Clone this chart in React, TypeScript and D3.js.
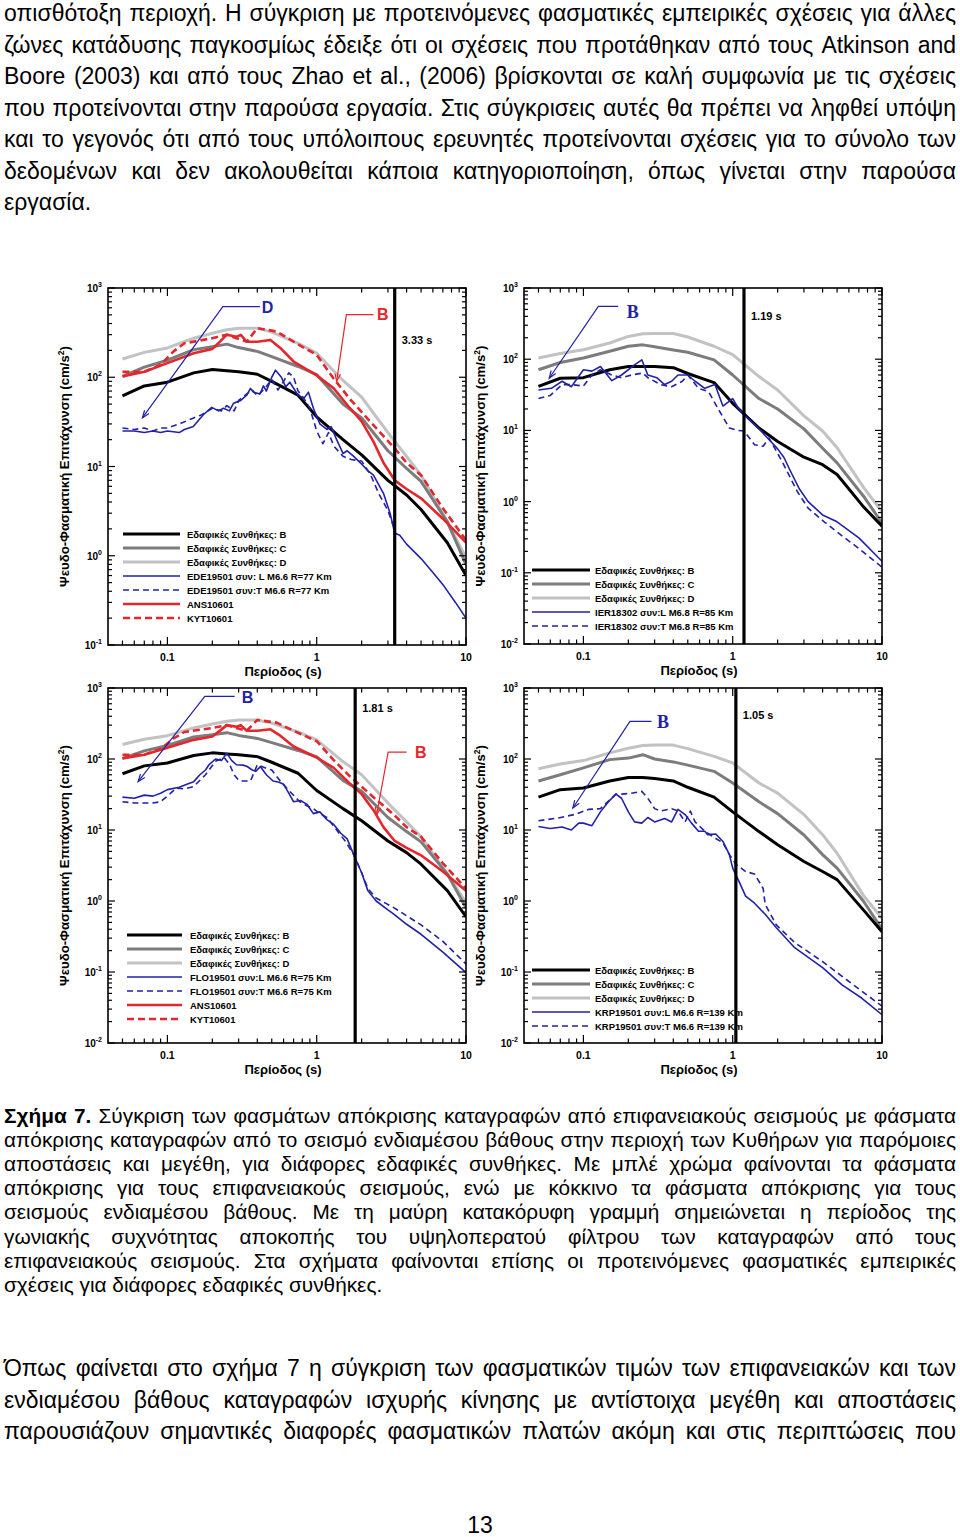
import React from 'react';
import * as d3 from 'd3';

const W = 960;
const H = 1537;

// ---------------- DATA ----------------
const empPeriods = [0.05, 0.07, 0.1, 0.15, 0.2, 0.25, 0.3, 0.4, 0.5, 0.75, 1, 1.5, 2, 3, 4, 5, 7.5, 10];
// empirical relations, M6.6 R~75-77 Km (panels a, c)
const empB_77 = [62, 80, 88, 112, 122, 118, 115, 108, 90, 63, 36, 20, 13.5, 7, 4.8, 3.3, 1.4, 0.6];
const empC_77 = [102, 130, 155, 204, 220, 235, 215, 195, 170, 132, 107, 50, 35, 15, 9.5, 6.8, 2.4, 0.8];
const empD_77 = [160, 190, 213, 274, 311, 340, 355, 355, 320, 240, 186, 92, 60, 24, 13, 8, 2.4, 0.95];
// empirical relations, M6.8 R=85 Km (panel b)
const empB_85 = [41.5, 54, 55, 71, 79, 79, 79, 76, 63, 47, 24, 10.8, 7, 4.2, 3.3, 2.4, 0.85, 0.45];
const empC_85 = [71, 90, 104, 129, 152, 159, 150, 135, 125, 98, 60, 28, 20, 10.5, 5.6, 3.5, 1.2, 0.5];
const empD_85 = [104, 120, 136, 169, 209, 228, 230, 230, 205, 152, 116, 57, 37, 16, 9.8, 5.7, 1.6, 0.72];
// empirical relations, M6.6 R=139 Km (panel d)
const empB_139 = [29, 37, 39, 49, 55, 55, 53, 49, 40, 29, 18, 9.5, 6.2, 3.6, 2.6, 2.0, 0.75, 0.37];
const empC_139 = [49, 60, 75, 98, 103, 115, 100, 91, 82, 67, 46, 25, 17, 8.5, 4.5, 2.9, 1.0, 0.4];
const empD_139 = [73, 85, 95, 122, 142, 155, 158, 157, 140, 109, 88, 46, 33, 16.5, 8.6, 4.7, 1.2, 0.57];

// intermediate-depth records [period, PSA]
const ANS10601: [number, number][] = [[0.05, 102], [0.07, 115], [0.1, 144], [0.15, 186], [0.2, 208], [0.225, 251], [0.25, 300], [0.29, 285], [0.31, 298], [0.34, 250], [0.4, 250], [0.49, 262], [0.57, 213], [0.7, 150], [1, 105], [1.3, 75], [1.67, 45], [2, 32], [2.4, 19], [2.8, 11], [3.33, 7], [4, 5.6], [5, 4.4], [7, 2.6], [10, 1.4]];
const KYT10601: [number, number][] = [[0.05, 115], [0.07, 115], [0.09, 138], [0.11, 195], [0.13, 240], [0.2, 274], [0.25, 300], [0.29, 274], [0.34, 250], [0.4, 355], [0.54, 325], [0.7, 250], [1, 178], [1.29, 98], [1.67, 57], [2.4, 29], [3.33, 16], [4, 11], [5, 8], [7, 3.4], [10, 1.5]];

// surface records
const EDE19501_L: [number, number][] = [[0.05, 25], [0.06, 25], [0.07, 24], [0.08, 25], [0.09, 24], [0.1, 25], [0.12, 24], [0.13, 26], [0.149, 28], [0.174, 38], [0.198, 46], [0.22, 42], [0.237, 45], [0.26, 42], [0.277, 51], [0.31, 55], [0.34, 63], [0.36, 75], [0.377, 68], [0.417, 65], [0.44, 80], [0.46, 70], [0.5, 100], [0.53, 120], [0.58, 100], [0.62, 78], [0.66, 88], [0.75, 63], [0.82, 58], [0.88, 68], [0.95, 45], [1.05, 30], [1.17, 26], [1.25, 28], [1.36, 20], [1.5, 14], [1.6, 15], [1.77, 13], [1.96, 11], [2.2, 9], [2.4, 8], [2.8, 5], [3.1, 3], [3.33, 1.8], [3.6, 1.7], [4, 1.35], [5, 0.93], [6, 0.65], [7.1, 0.46], [8.5, 0.3], [10, 0.2]];
const EDE19501_T: [number, number][] = [[0.05, 27], [0.06, 26], [0.07, 27], [0.08, 25], [0.09, 27], [0.1, 27], [0.12, 30], [0.15, 35], [0.17, 38], [0.2, 45], [0.23, 42], [0.25, 48], [0.28, 42], [0.3, 55], [0.34, 65], [0.37, 72], [0.4, 62], [0.45, 75], [0.5, 95], [0.55, 72], [0.6, 90], [0.65, 112], [0.7, 100], [0.75, 70], [0.8, 62], [0.9, 45], [1.0, 25], [1.1, 18], [1.2, 24], [1.3, 17], [1.5, 13], [1.7, 12], [2, 11.5], [2.3, 8], [2.6, 5], [3.0, 3.2], [3.25, 2.2]];
const IER18302_L: [number, number][] = [[0.05, 37], [0.061, 39], [0.072, 49], [0.083, 41], [0.1, 71], [0.114, 68], [0.13, 79], [0.155, 50], [0.18, 60], [0.22, 83], [0.246, 98], [0.27, 60], [0.31, 55], [0.35, 44], [0.39, 49], [0.43, 60], [0.5, 60], [0.56, 49], [0.65, 39], [0.76, 44], [0.86, 22], [1.0, 28], [1.09, 20.6], [1.19, 16.7], [1.5, 10.5], [1.8, 7], [2.0, 5.5], [2.2, 4.2], [2.5, 2.4], [2.8, 1.5], [3.2, 1.0], [4, 0.65], [5, 0.52], [7, 0.31], [10, 0.145]];
const IER18302_T: [number, number][] = [[0.05, 28], [0.06, 31], [0.072, 44], [0.083, 44], [0.1, 42], [0.114, 60], [0.13, 71], [0.155, 60], [0.18, 55], [0.21, 60], [0.25, 64], [0.27, 55], [0.33, 44], [0.39, 41], [0.46, 49], [0.5, 60], [0.59, 39], [0.69, 35], [0.8, 20], [0.95, 10.8], [1.09, 10], [1.19, 9.8], [1.4, 6.3], [1.6, 6], [1.75, 7.8], [2.15, 3.6], [2.7, 1.4], [3.2, 0.81], [4.1, 0.52], [5.3, 0.34], [7, 0.22], [10, 0.12]];
const FLO19501_L: [number, number][] = [[0.05, 29], [0.06, 28], [0.07, 31], [0.08, 30], [0.09, 33], [0.1, 37], [0.12, 40], [0.135, 44], [0.15, 48], [0.165, 60], [0.18, 70], [0.19, 83], [0.21, 100], [0.23, 95], [0.25, 120], [0.27, 95], [0.29, 83], [0.32, 82], [0.34, 79], [0.37, 70], [0.39, 67], [0.42, 78], [0.46, 60], [0.51, 49], [0.56, 47], [0.6, 44], [0.65, 33], [0.7, 25], [0.78, 26], [0.86, 23], [0.95, 17], [1.05, 18], [1.17, 14], [1.3, 12], [1.45, 9], [1.6, 7.5], [1.81, 4], [2.0, 2.5], [2.2, 1.4], [2.5, 1.0], [3, 0.75], [3.3, 0.65], [4, 0.47], [5, 0.34], [7, 0.19], [10, 0.098]];
const FLO19501_T: [number, number][] = [[0.05, 25], [0.06, 24], [0.07, 24], [0.08, 24], [0.09, 25], [0.1, 30], [0.115, 39], [0.13, 38], [0.15, 41], [0.18, 60], [0.21, 93], [0.24, 105], [0.26, 85], [0.28, 60], [0.3, 50], [0.32, 49], [0.36, 49], [0.4, 83], [0.46, 74], [0.5, 70], [0.57, 49], [0.66, 35], [0.77, 25], [0.86, 22], [0.95, 20], [1.05, 17], [1.17, 15], [1.36, 10], [1.55, 7], [1.77, 4.5], [2.0, 2.5], [2.2, 1.5], [2.5, 1.1], [3.3, 0.8], [5, 0.46], [7, 0.27], [10, 0.13]];
const KRP19501_L: [number, number][] = [[0.05, 11.2], [0.06, 10.5], [0.072, 11], [0.083, 10], [0.093, 12.5], [0.1, 12.5], [0.114, 11.5], [0.13, 18], [0.147, 25], [0.165, 32], [0.18, 28], [0.2, 18], [0.22, 13], [0.246, 12.5], [0.27, 15], [0.3, 13], [0.35, 14.5], [0.39, 13], [0.43, 19.5], [0.48, 16.5], [0.53, 12.5], [0.59, 9.6], [0.65, 9.6], [0.68, 8.6], [0.77, 8.8], [0.86, 6.9], [0.95, 4.5], [1.0, 2.9], [1.1, 1.9], [1.22, 1.17], [1.4, 0.93], [1.65, 0.65], [1.96, 0.42], [2.6, 0.22], [4, 0.115], [5.4, 0.066], [7.3, 0.043], [10, 0.025]];
const KRP19501_T: [number, number][] = [[0.05, 13.5], [0.068, 14.8], [0.088, 16.6], [0.108, 19.5], [0.13, 20], [0.165, 32], [0.18, 32], [0.21, 33], [0.246, 35], [0.27, 28], [0.3, 20], [0.33, 18.5], [0.39, 20], [0.43, 18.5], [0.48, 13], [0.52, 18.5], [0.56, 13], [0.65, 9.6], [0.77, 7.6], [0.86, 6.6], [0.95, 4.5], [1.05, 3.3], [1.22, 2.6], [1.4, 2.4], [1.6, 1.5], [1.65, 0.9], [1.96, 0.46], [2.6, 0.26], [4, 0.14], [5.4, 0.087], [7.3, 0.054], [10, 0.033]];

const cutoffPeriods = [3.33, 1.19, 1.81, 1.05];
const xTickLabels = ['0.1', '1', '10'];

const legendSoil = ['Εδαφικές Συνθήκες: B', 'Εδαφικές Συνθήκες: C', 'Εδαφικές Συνθήκες: D'];
const legendA = ['EDE19501 συν: L M6.6 R=77 Km', 'EDE19501 συν:T  M6.6 R=77 Km', 'ANS10601', 'KYT10601'];
const legendB = ['IER18302 συν:L  M6.8 R=85 Km', 'IER18302 συν:T  M6.8 R=85 Km'];
const legendC = ['FLO19501 συν:L  M6.6 R=75 Km', 'FLO19501 συν:T  M6.6 R=75 Km', 'ANS10601', 'KYT10601'];
const legendD = ['KRP19501 συν:L  M6.6 R=139 Km', 'KRP19501 συν:T  M6.6 R=139 Km'];

const paraTop = [
  'οπισθότοξη περιοχή. Η σύγκριση με προτεινόμενες φασματικές εμπειρικές σχέσεις για άλλες',
  'ζώνες κατάδυσης παγκοσμίως έδειξε ότι οι σχέσεις που προτάθηκαν από τους Atkinson and',
  'Boore (2003) και από τους Zhao et al., (2006) βρίσκονται σε καλή συμφωνία με τις σχέσεις',
  'που προτείνονται στην παρούσα εργασία. Στις σύγκρισεις αυτές θα πρέπει να ληφθεί υπόψη',
  'και το γεγονός ότι από τους υπόλοιπους ερευνητές προτείνονται σχέσεις για το σύνολο των',
  'δεδομένων και δεν ακολουθείται κάποια κατηγοριοποίηση, όπως γίνεται στην παρούσα',
  'εργασία.',
];
const captionLines = [
  'Σχήμα 7. Σύγκριση των φασμάτων απόκρισης καταγραφών από επιφανειακούς σεισμούς με φάσματα',
  'απόκρισης καταγραφών από το σεισμό ενδιαμέσου βάθους στην περιοχή των Κυθήρων για παρόμοιες',
  'αποστάσεις και μεγέθη, για διάφορες εδαφικές συνθήκες. Με μπλέ χρώμα φαίνονται τα φάσματα',
  'απόκρισης για τους επιφανειακούς σεισμούς, ενώ με κόκκινο τα φάσματα απόκρισης για τους',
  'σεισμούς ενδιαμέσου βάθους. Με τη μαύρη κατακόρυφη γραμμή σημειώνεται η περίοδος της',
  'γωνιακής συχνότητας αποκοπής του υψηλοπερατού φίλτρου των καταγραφών από τους',
  'επιφανειακούς σεισμούς. Στα σχήματα φαίνονται επίσης οι προτεινόμενες φασματικές εμπειρικές',
  'σχέσεις για διάφορες εδαφικές συνθήκες.',
];
const paraBottom = [
  'Όπως φαίνεται στο σχήμα 7 η σύγκριση των φασματικών τιμών των επιφανειακών και των',
  'ενδιαμέσου βάθους καταγραφών ισχυρής κίνησης με αντίστοιχα μεγέθη και αποστάσεις',
  'παρουσιάζουν σημαντικές διαφορές φασματικών πλατών ακόμη και στις περιπτώσεις που',
];

// ---------------- STYLE ----------------
const FONT = "'Liberation Sans', Arial, Helvetica, sans-serif";
const SERIF = "'Liberation Serif', 'Times New Roman', serif";
const BLUE = '#2222a6';
const RED = '#e3272c';
const GB = '#000000';
const GC = '#7c7c7c';
const GD = '#c2c2c2';

type Style = { color: string; width: number; dash?: string };
const sB: Style = { color: GB, width: 3 };
const sC: Style = { color: GC, width: 3 };
const sD: Style = { color: GD, width: 3 };
const sBlueL: Style = { color: BLUE, width: 1.6 };
const sBlueT: Style = { color: BLUE, width: 1.6, dash: '6,4' };
const sRedL: Style = { color: RED, width: 2.6 };
const sRedT: Style = { color: RED, width: 2.6, dash: '7,4' };

const zip = (xs: number[], ys: number[]): [number, number][] => xs.map((x, i) => [x, ys[i]]);

// ---------------- TEXT MEASURE ----------------
let _ctx: CanvasRenderingContext2D | null = null;
function tw(s: string, size: number, bold: boolean) {
  if (!_ctx) _ctx = document.createElement('canvas').getContext('2d');
  _ctx!.font = `${bold ? 'bold ' : ''}${size}px 'Liberation Sans'`;
  return _ctx!.measureText(s).width;
}

function JLine({ text, x, y, width, size, justify, boldCount = 0 }: { text: string; x: number; y: number; width: number; size: number; justify: boolean; boldCount?: number }) {
  const words = text.split(' ');
  const ws = words.map((w, i) => tw(w, size, i < boldCount));
  const total = ws.reduce((a, b) => a + b, 0);
  const sp = tw(' ', size, false);
  let gap = justify && words.length > 1 ? (width - total) / (words.length - 1) : sp;
  let scale = 1;
  if (gap < 2) {
    // too long: shrink glyphs slightly to fit
    scale = (width - 2 * (words.length - 1)) / total;
    gap = 2;
  }
  let cx = x;
  return (
    <g>
      {words.map((w, i) => {
        const wi = ws[i] * scale;
        const el = (
          <text key={i} x={cx} y={y} fontSize={size} fontFamily={FONT} fontWeight={i < boldCount ? 'bold' : 'normal'} fill="#000" textLength={scale < 1 ? wi : undefined} lengthAdjust="spacingAndGlyphs">
            {w}
          </text>
        );
        cx += wi + gap;
        return el;
      })}
    </g>
  );
}

// ---------------- PANEL ----------------
type Series = { pts: [number, number][]; style: Style };
type Annot = { label: string; color: string; serif?: boolean; at: [number, number]; path: [number, number][] };
type PanelProps = {
  id: string;
  l: number; r: number; t: number; b: number;
  yMin: number;
  series: Series[];
  cutoff: number;
  cutoffLabelY: number;
  legend: { label: string; style: Style }[];
  leg: { x0: number; x1: number; tx: number; y0: number };
  annots: Annot[];
};

function Panel(p: PanelProps) {
  const x = d3.scaleLog().domain([0.04, 10]).range([p.l, p.r]);
  const y = d3.scaleLog().domain([p.yMin, 1000]).range([p.b, p.t]);
  const line = d3.line<[number, number]>().x((d) => x(d[0])).y((d) => y(d[1]));
  const eMin = Math.round(Math.log10(p.yMin));
  const yTicks: { v: number; major: boolean }[] = [];
  for (let e = eMin; e <= 3; e++) {
    yTicks.push({ v: Math.pow(10, e), major: true });
    if (e < 3) for (let k = 2; k <= 9; k++) yTicks.push({ v: k * Math.pow(10, e), major: false });
  }
  const xTicks: { v: number; major: boolean }[] = [];
  [0.01, 0.1, 1].forEach((dec) => {
    for (let k = 1; k <= 9; k++) {
      const v = k * dec;
      if (v >= 0.049 && v <= 10) xTicks.push({ v, major: k === 1 });
    }
  });
  xTicks.push({ v: 10, major: true });
  const yMaj = 7, yMn = 4, xMaj = 8, xMn = 4.5;
  const cx = (p.l + p.r) / 2;
  const cy = (p.t + p.b) / 2;
  const vx = x(p.cutoff);
  return (
    <g>
      <defs>
        <clipPath id={`clip-${p.id}`}>
          <rect x={p.l} y={p.t} width={p.r - p.l} height={p.b - p.t} />
        </clipPath>
      </defs>
      <g clipPath={`url(#clip-${p.id})`}>
        {p.series.map((s, i) => (
          <path key={i} d={line(s.pts) || ''} fill="none" stroke={s.style.color} strokeWidth={s.style.width} strokeDasharray={s.style.dash} strokeLinejoin="round" />
        ))}
      </g>
      {yTicks.map((tk, i) => (
        <g key={'y' + i} stroke="#000" strokeWidth={1.2}>
          <line x1={p.l} x2={p.l + (tk.major ? yMaj : yMn)} y1={y(tk.v)} y2={y(tk.v)} />
          <line x1={p.r} x2={p.r - (tk.major ? yMaj : yMn)} y1={y(tk.v)} y2={y(tk.v)} />
        </g>
      ))}
      {xTicks.map((tk, i) => (
        <g key={'x' + i} stroke="#000" strokeWidth={1.2}>
          <line x1={x(tk.v)} x2={x(tk.v)} y1={p.b} y2={p.b - (tk.major ? xMaj : xMn)} />
          <line x1={x(tk.v)} x2={x(tk.v)} y1={p.t} y2={p.t + (tk.major ? xMaj : xMn)} />
        </g>
      ))}
      <rect x={p.l} y={p.t} width={p.r - p.l} height={p.b - p.t} fill="none" stroke="#000" strokeWidth={1.6} />
      {yTicks.filter((t) => t.major).map((tk, i) => {
        const e = Math.round(Math.log10(tk.v));
        return (
          <text key={'yl' + i} x={p.l - 6} y={y(tk.v) + 4} textAnchor="end" fontSize={10} fontWeight="bold" fontFamily={FONT}>
            10<tspan dy={-5} fontSize={7}>{e}</tspan>
          </text>
        );
      })}
      {xTickLabels.map((s) => (
        <text key={s} x={x(+s)} y={p.b + 16} textAnchor="middle" fontSize={10.5} fontWeight="bold" fontFamily={FONT}>
          {s}
        </text>
      ))}
      <text x={cx - 4} y={p.b + 31} textAnchor="middle" fontSize={13} fontWeight="bold" fontFamily={FONT}>
        Περίοδος (s)
      </text>
      <text transform={`translate(${p.l - 39},${cy}) rotate(-90)`} textAnchor="middle" fontSize={13.2} fontWeight="bold" fontFamily={FONT}>
        Ψευδο-Φασματική Επιτάχυνση (cm/s<tspan dy={-5} fontSize={8.5}>2</tspan><tspan dy={5}>)</tspan>
      </text>
      <line x1={vx} x2={vx} y1={p.t} y2={p.b} stroke="#000" strokeWidth={3.2} />
      <text x={vx + 7} y={y(p.cutoffLabelY) + 4} fontSize={11} fontWeight="bold" fontFamily={FONT}>
        {p.cutoff.toFixed(2)} s
      </text>
      {p.annots.map((a, i) => {
        const pts = a.path.map((d) => [x(d[0]), y(d[1])] as [number, number]);
        const n = pts.length;
        const [x1, y1] = pts[n - 2];
        const [x2, y2] = pts[n - 1];
        const ang = Math.atan2(y2 - y1, x2 - x1);
        const L = 8;
        const h1 = [x2 - L * Math.cos(ang - 0.35), y2 - L * Math.sin(ang - 0.35)];
        const h2 = [x2 - L * Math.cos(ang + 0.35), y2 - L * Math.sin(ang + 0.35)];
        return (
          <g key={'a' + i}>
            <polyline points={pts.map((q) => q.join(',')).join(' ')} fill="none" stroke={a.color} strokeWidth={1.2} />
            <polyline points={`${h1.join(',')} ${x2},${y2} ${h2.join(',')}`} fill="none" stroke={a.color} strokeWidth={1.2} />
            <text x={x(a.at[0])} y={y(a.at[1])} dy="0.36em" fontSize={a.serif ? 18 : 16} fontWeight="bold" fontFamily={a.serif ? SERIF : FONT} fill={a.color}>
              {a.label}
            </text>
          </g>
        );
      })}
      {p.legend.map((e, i) => {
        const yy = p.leg.y0 + i * 14;
        return (
          <g key={'lg' + i}>
            <line x1={p.leg.x0} x2={p.leg.x1} y1={yy} y2={yy} stroke={e.style.color} strokeWidth={e.style.width} strokeDasharray={e.style.dash} />
            <text x={p.leg.tx} y={yy + 3.5} fontSize={9.5} fontWeight="bold" fontFamily={FONT} fill="#000">
              {e.label}
            </text>
          </g>
        );
      })}
    </g>
  );
}

export default function App() {
  const soil = (b: number[], c: number[], d: number[]): Series[] => [
    { pts: zip(empPeriods, d), style: sD },
    { pts: zip(empPeriods, c), style: sC },
    { pts: zip(empPeriods, b), style: sB },
  ];
  const soilLegend = [
    { label: legendSoil[0], style: sB },
    { label: legendSoil[1], style: sC },
    { label: legendSoil[2], style: sD },
  ];
  const panels: PanelProps[] = [
    {
      id: 'a', l: 108, r: 466, t: 288, b: 645, yMin: 0.1,
      series: [...soil(empB_77, empC_77, empD_77), { pts: EDE19501_T, style: sBlueT }, { pts: EDE19501_L, style: sBlueL }, { pts: KYT10601, style: sRedT }, { pts: ANS10601, style: sRedL }],
      cutoff: cutoffPeriods[0], cutoffLabelY: 260,
      legend: [...soilLegend, { label: legendA[0], style: sBlueL }, { label: legendA[1], style: sBlueT }, { label: legendA[2], style: sRedL }, { label: legendA[3], style: sRedT }],
      leg: { x0: 123, x1: 180, tx: 187, y0: 534 },
      annots: [
        { label: 'D', color: BLUE, at: [0.428, 601], path: [[0.416, 617], [0.235, 617], [0.068, 35]] },
        { label: 'B', color: RED, at: [2.53, 502], path: [[2.4, 502], [1.58, 502], [1.36, 90]] },
      ],
    },
    {
      id: 'b', l: 524, r: 882, t: 288, b: 644, yMin: 0.01,
      series: [...soil(empB_85, empC_85, empD_85), { pts: IER18302_T, style: sBlueT }, { pts: IER18302_L, style: sBlueL }],
      cutoff: cutoffPeriods[1], cutoffLabelY: 408,
      legend: [...soilLegend, { label: legendB[0], style: sBlueL }, { label: legendB[1], style: sBlueT }],
      leg: { x0: 532, x1: 590, tx: 595, y0: 570 },
      annots: [{ label: 'B', color: BLUE, serif: true, at: [0.195, 464], path: [[0.171, 552], [0.126, 552], [0.059, 54]] }],
    },
    {
      id: 'c', l: 108, r: 466, t: 688, b: 1043, yMin: 0.01,
      series: [...soil(empB_77, empC_77, empD_77), { pts: FLO19501_T, style: sBlueT }, { pts: FLO19501_L, style: sBlueL }, { pts: KYT10601, style: sRedT }, { pts: ANS10601, style: sRedL }],
      cutoff: cutoffPeriods[2], cutoffLabelY: 527,
      legend: [...soilLegend, { label: legendC[0], style: sBlueL }, { label: legendC[1], style: sBlueT }, { label: legendC[2], style: sRedL }, { label: legendC[3], style: sRedT }],
      leg: { x0: 127, x1: 182, tx: 190, y0: 935 },
      annots: [
        { label: 'B', color: BLUE, at: [0.315, 730], path: [[0.282, 762], [0.178, 762], [0.0636, 48]] },
        { label: 'B', color: RED, at: [4.55, 125], path: [[4.0, 125], [3.01, 125], [2.52, 16.4]] },
      ],
    },
    {
      id: 'd', l: 524, r: 882, t: 688, b: 1043, yMin: 0.01,
      series: [...soil(empB_139, empC_139, empD_139), { pts: KRP19501_T, style: sBlueT }, { pts: KRP19501_L, style: sBlueL }],
      cutoff: cutoffPeriods[3], cutoffLabelY: 410,
      legend: [...soilLegend, { label: legendD[0], style: sBlueL }, { label: legendD[1], style: sBlueT }],
      leg: { x0: 532, x1: 590, tx: 595, y0: 970 },
      annots: [{ label: 'B', color: BLUE, serif: true, at: [0.311, 339], path: [[0.286, 339], [0.205, 339], [0.085, 20.4]] }],
    },
  ];

  return (
    <svg width={W} height={H} viewBox={`0 0 ${W} ${H}`} style={{ position: 'absolute', left: 0, top: 0, background: '#fff' }}>
      <rect width={W} height={H} fill="#fff" />
      {paraTop.map((s, i) => (
        <JLine key={'pt' + i} text={s} x={4} y={21 + i * 31.5} width={952} size={23} justify={i < paraTop.length - 1} />
      ))}
      {panels.map((p) => (
        <Panel key={p.id} {...p} />
      ))}
      {captionLines.map((s, i) => (
        <JLine key={'cp' + i} text={s} x={4} y={1123 + i * 24.1} width={952} size={20.8} justify={i < captionLines.length - 1} boldCount={i === 0 ? 2 : 0} />
      ))}
      {paraBottom.map((s, i) => (
        <JLine key={'pb' + i} text={s} x={4} y={1376 + i * 31.5} width={952} size={23} justify={true} />
      ))}
      <text x={480} y={1533} textAnchor="middle" fontSize={23} fontFamily={FONT}>13</text>
    </svg>
  );
}
